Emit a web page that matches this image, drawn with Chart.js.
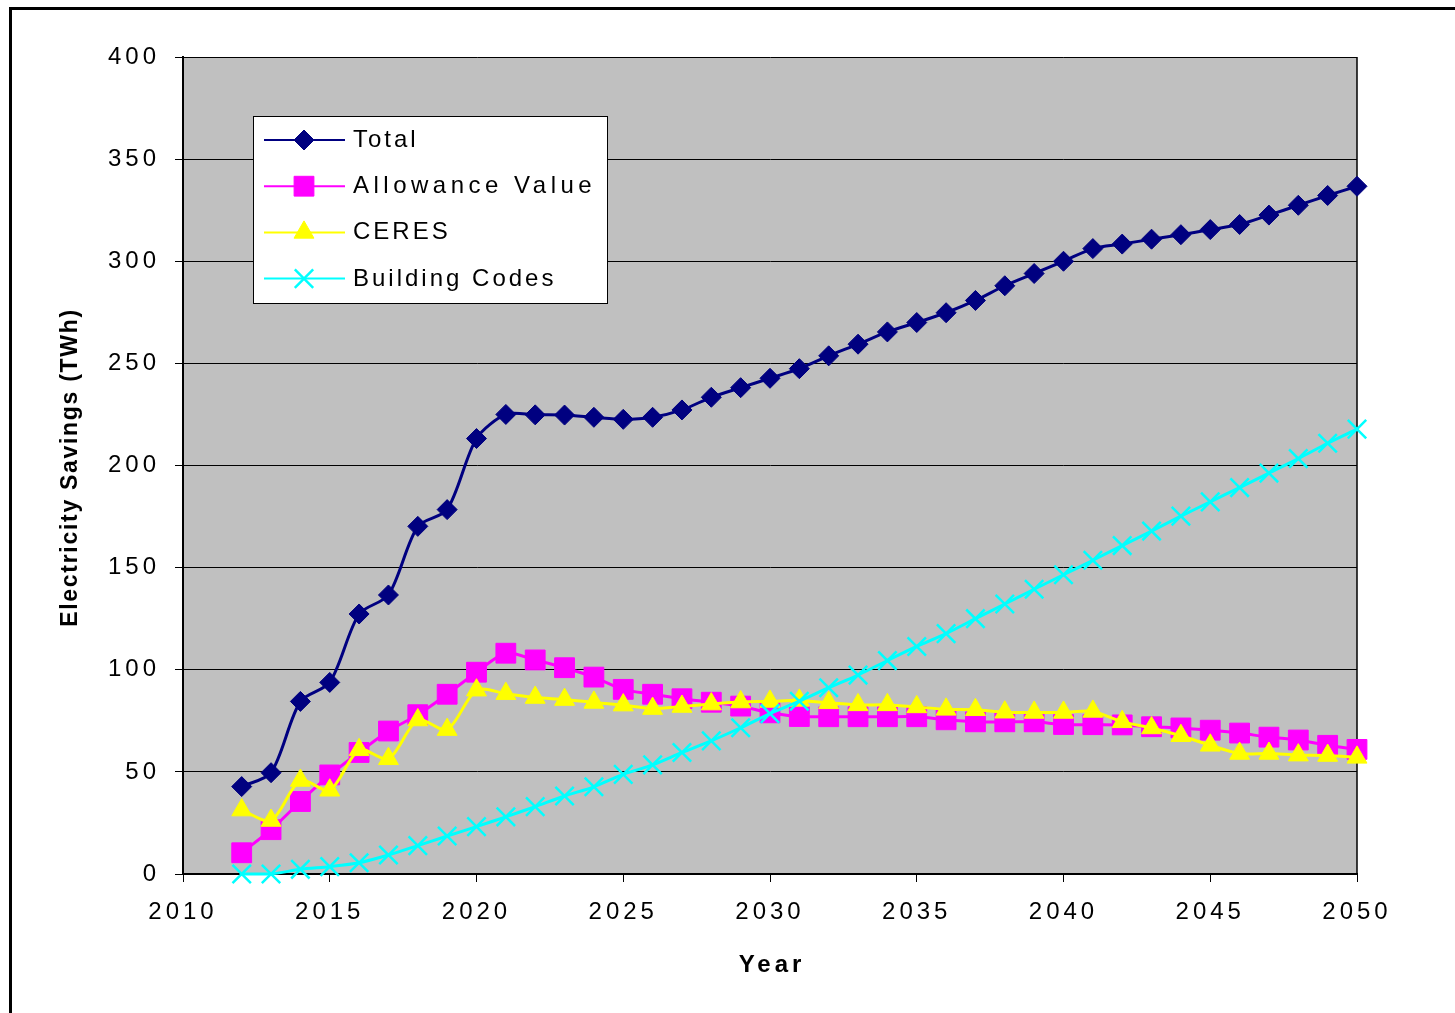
<!DOCTYPE html>
<html>
<head>
<meta charset="utf-8">
<script src="https://cdn.jsdelivr.net/npm/chart.js@4/dist/chart.umd.min.js"></script>
<style>
  html, body { margin: 0; padding: 0; background: #fff; }
  #wrap { position: relative; width: 1455px; height: 1013px; overflow: hidden; }
  #frame { position: absolute; left: 9px; top: 7px; right: -10px; bottom: -10px; border-top: 3px solid #000; border-left: 3px solid #000; pointer-events: none; }
  canvas { position: absolute; left: 0; top: 0; }
</style>
</head>
<body>
<div id="wrap">
  <canvas id="chart" width="1455" height="1013"></canvas>
  <div id="frame"></div>
</div>
<script>
const years = [2012, 2013, 2014, 2015, 2016, 2017, 2018, 2019, 2020, 2021, 2022, 2023, 2024, 2025, 2026, 2027, 2028, 2029, 2030,
  2031, 2032, 2033, 2034, 2035, 2036, 2037, 2038, 2039, 2040, 2041, 2042, 2043, 2044, 2045, 2046, 2047, 2048, 2049, 2050];

const total = [42.8, 49.6, 84.5, 93.8, 127.3, 136.6, 170.2, 178.4, 213.2, 225, 224.8, 224.7, 223.6, 222.6, 223.6, 227.2, 233.4, 238.1, 242.7,
  247.4, 253.7, 259.4, 265.4, 270, 274.8, 280.8, 288, 294, 300, 306.2, 308.4, 310.8, 313, 315.5, 318, 322.6, 327.4, 332.2, 336.7];

const allowanceValue = [10.4, 21.7, 35.5, 48.5, 59.5, 70, 78, 88, 98.8, 108.1, 104.8, 101, 96.4, 90.4, 88, 85.8, 84.1, 82.2, 78.9,
  77.1, 77, 77, 77, 77, 75.5, 74.5, 74.5, 74.5, 73.2, 73.1, 73, 72.1, 71.5, 70.4, 69, 67, 65.6, 63, 61];

const ceres = [31.3, 26.2, 45.8, 41, 60.8, 56.4, 75.4, 70.7, 90, 88.3, 86.4, 85.4, 84, 82.7, 81, 82, 83.2, 84.2, 84.5,
  85, 83.8, 82.8, 82.8, 81.8, 80.6, 80.4, 79.2, 79.1, 79.1, 79.6, 74.5, 71.5, 67.7, 63, 59, 59, 58.2, 58, 57.1];

const buildingCodes = [0, 0, 2.3, 3.6, 5.5, 9.3, 13.9, 18.6, 23.2, 28, 33, 38.2, 42.7, 48.8, 53.4, 59.5, 65.2, 71.6, 78.5,
  84.6, 91.2, 97.4, 104.5, 111.4, 117.7, 125, 132.2, 139.4, 146.5, 153.6, 160.8, 167.9, 175.2, 182.2, 189.2, 196.3, 203.4, 210.9, 217.8];

const seriesNames = ['Total', 'Allowance Value', 'CERES', 'Building Codes'];
const seriesColors = ['#000080', '#FF00FF', '#FFFF00', '#00FFFF'];
const seriesStyles = ['rectRot', 'rect', 'triangle', 'crossRot'];
const seriesRadius = [10, 14, 11.5, 13];
const legendSpacing = ['3px', '4.5px', '3px', '3px'];

const FONT = "'Liberation Sans', Arial, sans-serif";

function pts(vals) { return vals.map((v, i) => ({ x: years[i], y: v })); }

function mkSet(i, vals) {
  const cross = seriesStyles[i] === 'crossRot';
  return {
    label: seriesNames[i], data: pts(vals), order: 4 - i, clip: false,
    borderColor: seriesColors[i], backgroundColor: seriesColors[i], borderWidth: 3,
    tension: 0.28, pointStyle: seriesStyles[i], pointRadius: seriesRadius[i], pointHoverRadius: seriesRadius[i],
    pointBackgroundColor: seriesColors[i], pointBorderColor: seriesColors[i], pointBorderWidth: cross ? 2.5 : 1
  };
}

// letter spacing of the axis text, reset whenever chart.js may have touched the context
function spacing(chart) { chart.ctx.letterSpacing = '4px'; }

const plotFrame = {
  id: 'plotFrame',
  beforeUpdate: spacing, beforeLayout: spacing,
  beforeDraw(chart) {
    spacing(chart);
    const a = chart.chartArea, ctx = chart.ctx;
    ctx.save(); ctx.fillStyle = '#C0C0C0'; ctx.fillRect(a.left, a.top, a.right - a.left, a.bottom - a.top); ctx.restore();
  },
  beforeDatasetsDraw(chart) {
    const a = chart.chartArea, ctx = chart.ctx;
    ctx.save(); ctx.strokeStyle = '#000'; ctx.lineWidth = 1.5;
    ctx.beginPath(); ctx.moveTo(a.right, a.top); ctx.lineTo(a.right, a.bottom); ctx.stroke(); ctx.restore();
  },
  afterDraw(chart) {
    const a = chart.chartArea, ctx = chart.ctx;
    ctx.save();
    // axis titles
    ctx.fillStyle = '#000'; ctx.textAlign = 'center'; ctx.textBaseline = 'alphabetic';
    ctx.font = 'bold 24px ' + FONT; ctx.letterSpacing = '4px';
    ctx.fillText('Year', (a.left + a.right) / 2 + 2, 972);
    ctx.save(); ctx.translate(77, (a.top + a.bottom) / 2 + 3); ctx.rotate(-Math.PI / 2);
    ctx.font = 'bold 23px ' + FONT; ctx.letterSpacing = '1.7px';
    ctx.fillText('Electricity Savings (TWh)', 1, 0); ctx.restore();

    // legend box inside the plot
    const bx = a.left + 70, by = a.top + 59, bw = 354, bh = 187;
    ctx.fillStyle = '#fff'; ctx.fillRect(bx, by, bw, bh);
    ctx.strokeStyle = '#000'; ctx.lineWidth = 1; ctx.strokeRect(bx + 0.5, by + 0.5, bw, bh);
    ctx.font = '24px ' + FONT; ctx.textAlign = 'left';
    seriesNames.forEach((name, i) => {
      const y = by + 24 + i * 46.2;
      ctx.strokeStyle = seriesColors[i]; ctx.lineWidth = 2;
      ctx.beginPath(); ctx.moveTo(bx + 11, y); ctx.lineTo(bx + 92, y); ctx.stroke();
      ctx.fillStyle = seriesColors[i];
      ctx.lineWidth = seriesStyles[i] === 'crossRot' ? 2.5 : 1;
      Chart.helpers.drawPoint(ctx, { pointStyle: seriesStyles[i], radius: seriesRadius[i], rotation: 0, borderWidth: ctx.lineWidth }, bx + 51, y);
      ctx.fillStyle = '#000'; ctx.letterSpacing = legendSpacing[i];
      ctx.fillText(name, bx + 100, y + 7);
    });
    ctx.restore();
  }
};

new Chart(document.getElementById('chart'), {
  type: 'line',
  data: { datasets: [mkSet(0, total), mkSet(1, allowanceValue), mkSet(2, ceres), mkSet(3, buildingCodes)] },
  options: {
    responsive: false, animation: false, devicePixelRatio: 1,
    layout: { padding: { top: 57, right: 98, bottom: 0, left: 0 } },
    plugins: { legend: { display: false }, tooltip: { enabled: false } },
    scales: {
      x: {
        type: 'linear', min: 2010, max: 2050,
        afterFit(s) { s.height = 139; },
        ticks: { stepSize: 5, padding: 16, color: '#000', font: { family: FONT, size: 24 }, maxRotation: 0, callback: v => String(v) },
        grid: { drawOnChartArea: false, drawTicks: true, tickLength: 8, color: '#000', lineWidth: 1 },
        border: { color: '#000', width: 2 }
      },
      y: {
        min: 0, max: 400,
        afterFit(s) { s.width = 183; },
        ticks: { stepSize: 50, padding: 15, color: '#000', font: { family: FONT, size: 24 } },
        grid: { color: '#000', lineWidth: 1, drawTicks: true, tickLength: 8 },
        border: { color: '#000', width: 2 }
      }
    }
  },
  plugins: [plotFrame]
});
</script>
</body>
</html>
